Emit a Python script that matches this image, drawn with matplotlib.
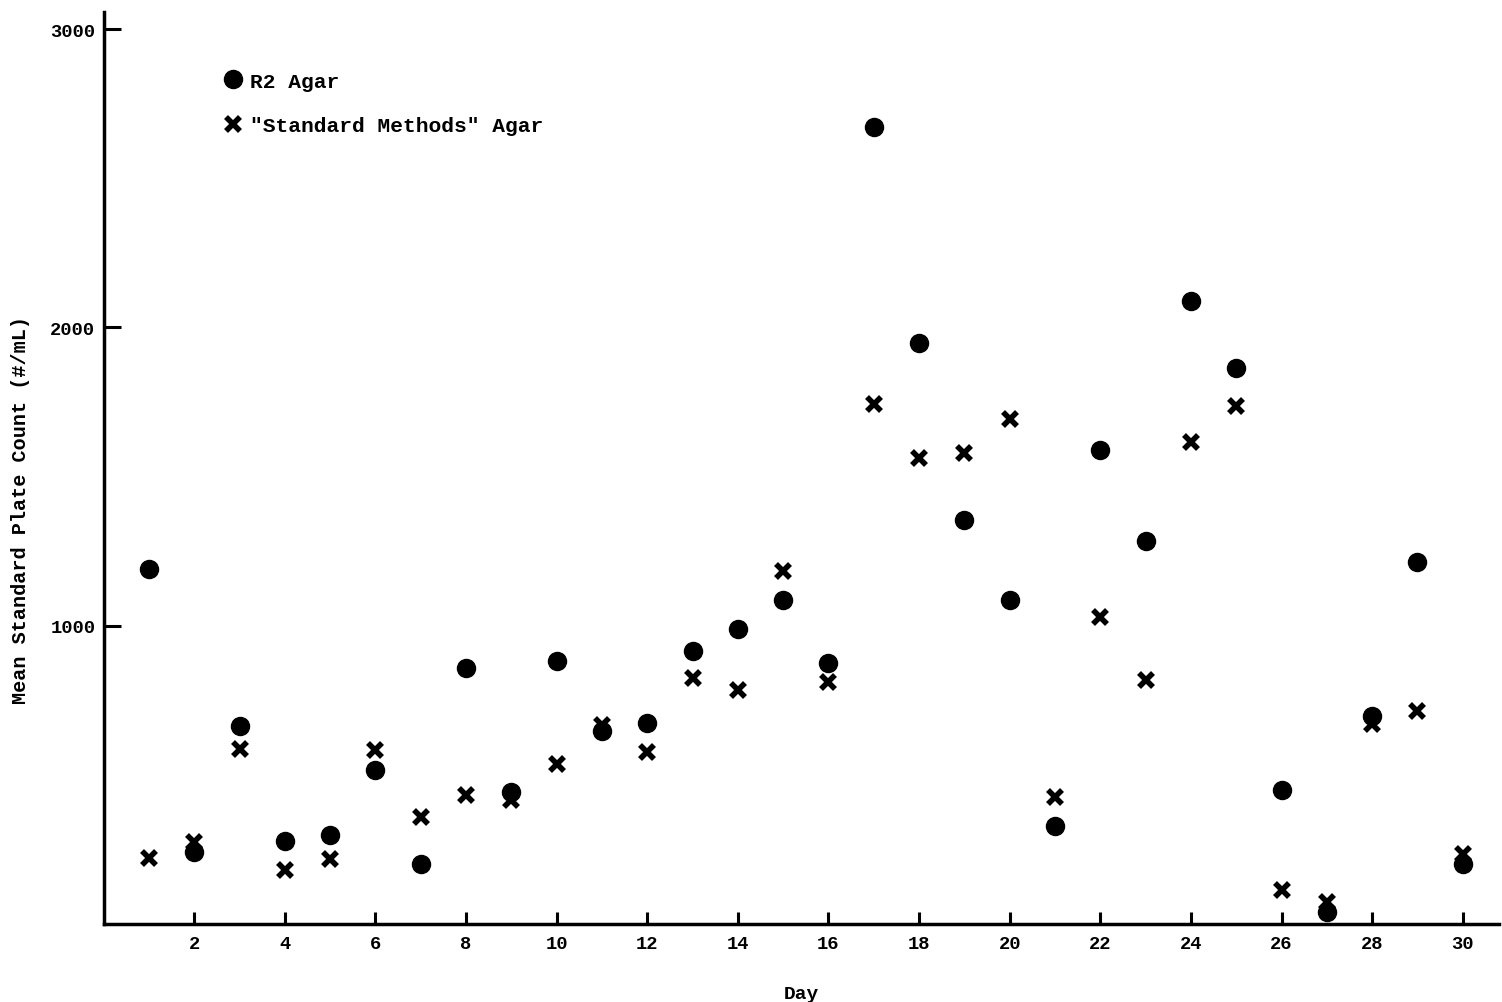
"""Mean standard plate count by day, R2 vs "Standard Methods" agar."""

import matplotlib
matplotlib.use("Agg")
import matplotlib.pyplot as plt


## data
days = list(range(1, 31))

r2_agar = [1191, 241, 662, 278, 298, 515, 201, 856, 441, 880,
           645, 672, 913, 990, 1084, 876, 2672, 1946, 1355, 1084,
           328, 1589, 1284, 2087, 1863, 448, 40, 696, 1214, 201]

std_agar = [221, 274, 585, 181, 217, 582, 358, 431, 415, 535,
            666, 575, 823, 783, 1184, 809, 1742, 1562, 1579, 1692,
            425, 1027, 819, 1615, 1736, 114, 74, 669, 712, 234]

x_ticks = list(range(2, 31, 2))
y_ticks = [1000, 2000, 3000]


plt.rcParams['font.family'] = ['Liberation Mono', 'DejaVu Sans Mono']
plt.rcParams['font.weight'] = 'bold'

fig = plt.figure(figsize=(15.02, 10.03), dpi=100)
ax = fig.add_axes([0.069, 0.078, 0.929, 0.909])

ax.plot(days, r2_agar, 'o', color='black', markersize=13,
        linestyle='none', label='R2 Agar')
ax.plot(days, std_agar, 'x', color='black', markersize=10,
        markeredgewidth=4, linestyle='none', label='"Standard Methods" Agar')

ax.set_xlim(0, 30.8)
ax.set_ylim(0, 3057)
ax.set_xticks(x_ticks)
ax.set_yticks(y_ticks)

for side in ['top', 'right']:
    ax.spines[side].set_visible(False)
for side in ['left', 'bottom']:
    ax.spines[side].set_linewidth(2.5)

ax.tick_params(axis='x', direction='in', length=9, width=2.2,
               labelsize=13.5, pad=8)
ax.tick_params(axis='y', direction='in', length=12, width=2.2,
               labelsize=13.5, pad=6)

ax.set_xlabel('Day', fontsize=14, fontweight='bold', labelpad=24)
ax.set_ylabel('Mean Standard Plate Count (#/mL)', fontsize=14.5,
              fontweight='bold')
ax.yaxis.set_label_coords(-0.053, 0.455)

ax.legend(loc='upper left', bbox_to_anchor=(0.079, 0.944), frameon=False,
          fontsize=15.3, handletextpad=0.3, labelspacing=1.2,
          handlelength=1.0, borderaxespad=0)

fig.savefig('out.png', dpi=100)
